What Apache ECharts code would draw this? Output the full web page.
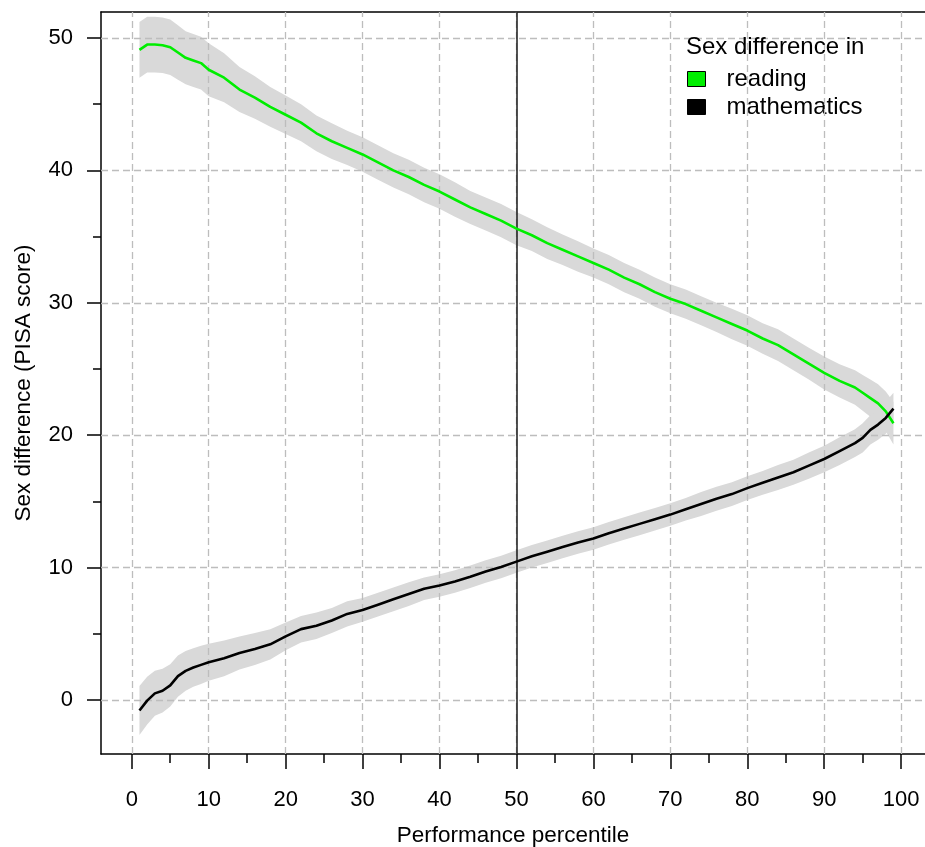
<!DOCTYPE html>
<html>
<head>
<meta charset="utf-8">
<title>Sex difference by performance percentile</title>
<script src="https://cdn.jsdelivr.net/npm/echarts@6/dist/echarts.min.js"></script>
<style>
  html, body { margin: 0; padding: 0; background: #fff; }
  #container { width: 925px; height: 847px; }
</style>
</head>
<body>
<div id="container"></div>
<script>
// performance percentiles where the curves were read
var pct = [1, 2, 3, 4, 5, 6, 7, 8, 9, 10,
  12, 14, 16, 18, 20, 22, 24, 26, 28, 30, 32, 34, 36, 38, 40, 42, 44, 46, 48, 50,
  52, 54, 56, 58, 60, 62, 64, 66, 68, 70, 72, 74, 76, 78, 80, 82, 84, 86, 88, 90, 92, 94,
  95, 96, 97, 98, 99];

// sex difference in reading (PISA score)
var reading = [49.1, 49.5, 49.5, 49.45, 49.3, 48.9, 48.5, 48.3, 48.1, 47.6,
  47.0, 46.1, 45.5, 44.8, 44.2, 43.6, 42.8, 42.2, 41.7, 41.2, 40.6, 40.0, 39.5, 38.9, 38.4, 37.8, 37.2, 36.7, 36.2, 35.6,
  35.1, 34.5, 34.0, 33.5, 33.0, 32.5, 31.9, 31.4, 30.8, 30.3, 29.9, 29.4, 28.9, 28.4, 27.9, 27.3, 26.8, 26.1, 25.4, 24.7, 24.1, 23.6,
  23.2, 22.8, 22.4, 21.8, 20.9];
// half width of the grey band around reading
var readingCI = [2.1, 2.1, 2.1, 2.1, 2.1, 2.05, 2.0, 2.0, 2.0, 2.0,
  1.85, 1.7, 1.6, 1.5, 1.45, 1.4, 1.35, 1.35, 1.3, 1.3, 1.3, 1.3, 1.3, 1.3, 1.3, 1.3, 1.25, 1.25, 1.25, 1.25,
  1.2, 1.2, 1.15, 1.15, 1.1, 1.1, 1.1, 1.1, 1.1, 1.1, 1.1, 1.1, 1.1, 1.15, 1.15, 1.15, 1.2, 1.2, 1.2, 1.25, 1.25, 1.3,
  1.35, 1.4, 1.45, 1.5, 1.6];

// sex difference in mathematics (PISA score)
var maths = [-0.8, -0.05, 0.5, 0.7, 1.1, 1.8, 2.2, 2.45, 2.65, 2.85,
  3.15, 3.55, 3.85, 4.2, 4.8, 5.35, 5.6, 6.0, 6.5, 6.8, 7.2, 7.6, 8.0, 8.4, 8.65, 8.95, 9.3, 9.7, 10.05, 10.45,
  10.85, 11.2, 11.55, 11.9, 12.2, 12.6, 12.95, 13.3, 13.65, 14.0, 14.4, 14.8, 15.2, 15.55, 16.0, 16.4, 16.8, 17.2, 17.7, 18.2, 18.8, 19.4,
  19.8, 20.4, 20.8, 21.3, 22.0];
var mathsCI = [1.85, 1.8, 1.7, 1.65, 1.6, 1.55, 1.5, 1.45, 1.45, 1.4,
  1.35, 1.25, 1.2, 1.15, 1.05, 1.0, 1.0, 0.95, 0.95, 0.9, 0.9, 0.9, 0.9, 0.85, 0.85, 0.85, 0.85, 0.85, 0.85, 0.85,
  0.85, 0.85, 0.85, 0.85, 0.85, 0.85, 0.85, 0.85, 0.85, 0.85, 0.85, 0.9, 0.9, 0.9, 0.9, 0.9, 0.95, 0.95, 1.0, 1.0, 1.05, 1.05,
  1.1, 1.1, 1.15, 1.2, 1.2];

var xMajor = [0, 10, 20, 30, 40, 50, 60, 70, 80, 90, 100];
var xMinor = [5, 15, 25, 35, 45, 55, 65, 75, 85, 95];
var yMajor = [0, 10, 20, 30, 40, 50];
var yMinor = [5, 15, 25, 35, 45];

var FONT = '"Liberation Sans", Arial, Helvetica, sans-serif';
var BAND = '#d9d9d9';

function pairs(vals) {
  return pct.map(function (p, i) { return [p, vals[i]]; });
}

// grey band drawn as one polygon through the axis scales
function bandSeries(name, vals, ci) {
  var data = pct.map(function (p, i) { return [p, vals[i] - ci[i], vals[i] + ci[i]]; });
  return {
    name: name + '-band', type: 'custom', data: data, z: 1, silent: true,
    encode: { x: 0, y: [1, 2] },
    renderItem: function (params, api) {
      if (params.dataIndex !== 0) return null;
      var top = data.map(function (d) { return api.coord([d[0], d[2]]); });
      var bot = data.map(function (d) { return api.coord([d[0], d[1]]); }).reverse();
      return {
        type: 'polygon',
        shape: { points: top.concat(bot) },
        style: { fill: BAND }
      };
    }
  };
}

var gridLines = xMajor.map(function (v) { return { xAxis: v }; })
  .concat(yMajor.map(function (v) { return { yAxis: v }; }));

var container = document.getElementById('container');
var chart = echarts.init(container, null, { renderer: 'canvas' });

var axisLineStyle = { color: '#000', width: 1.5 };

var option = {
  animation: false,
  backgroundColor: '#fff',
  textStyle: { fontFamily: FONT },
  title: {
    text: 'Sex difference in',
    left: 681, top: 30,
    textStyle: { fontFamily: FONT, fontSize: 24, fontWeight: 'normal', color: '#000' }
  },
  legend: {
    orient: 'vertical',
    left: 682, top: 62,
    itemWidth: 18, itemHeight: 15, itemGap: 4,
    selectedMode: false,
    textStyle: { fontFamily: FONT, fontSize: 24, lineHeight: 20, color: '#000', padding: [0, 0, 0, 16] },
    data: [
      { name: 'reading', icon: 'rect', itemStyle: { color: '#00ee00', borderColor: '#000', borderWidth: 1 } },
      { name: 'mathematics', icon: 'rect', itemStyle: { color: '#000', borderColor: '#000', borderWidth: 1 } }
    ]
  },
  grid: { left: 101, right: 0, top: 12, bottom: 93, containLabel: false, outerBoundsMode: 'none' },
  xAxis: [{
    type: 'value', min: -4, max: 103.1, position: 'bottom',
    name: 'Performance percentile', nameLocation: 'middle', nameGap: 70,
    nameTextStyle: { fontFamily: FONT, fontSize: 22.5, color: '#000' },
    axisLine: { show: true, onZero: false, lineStyle: axisLineStyle },
    axisTick: { show: true, length: 15, customValues: xMajor, lineStyle: axisLineStyle },
    axisLabel: { show: true, margin: 35, customValues: xMajor, fontFamily: FONT, fontSize: 22, color: '#000' },
    splitLine: { show: false }
  }, {
    type: 'value', min: -4, max: 103.1, position: 'bottom',
    axisLine: { show: false, onZero: false },
    axisTick: { show: true, length: 9, customValues: xMinor, lineStyle: axisLineStyle },
    axisLabel: { show: false },
    splitLine: { show: false }
  }, {
    type: 'value', min: -4, max: 103.1, position: 'top',
    axisLine: { show: true, onZero: false, lineStyle: axisLineStyle },
    axisTick: { show: false }, axisLabel: { show: false }, splitLine: { show: false }
  }],
  yAxis: [{
    type: 'value', min: -4.08, max: 51.96, position: 'left',
    name: 'Sex difference (PISA score)', nameLocation: 'middle', nameGap: 66, nameRotate: 90,
    nameTextStyle: { fontFamily: FONT, fontSize: 22.5, color: '#000' },
    axisLine: { show: true, onZero: false, lineStyle: axisLineStyle },
    axisTick: { show: true, length: 14, customValues: yMajor, lineStyle: axisLineStyle },
    axisLabel: { show: true, margin: 28, customValues: yMajor, fontFamily: FONT, fontSize: 22, color: '#000' },
    splitLine: { show: false }
  }, {
    type: 'value', min: -4.08, max: 51.96, position: 'left',
    axisLine: { show: false, onZero: false },
    axisTick: { show: true, length: 8, customValues: yMinor, lineStyle: axisLineStyle },
    axisLabel: { show: false },
    splitLine: { show: false }
  }],
  series: [
    bandSeries('reading', reading, readingCI),
    bandSeries('maths', maths, mathsCI),
    {
      name: 'gridlines', type: 'line', data: [], silent: true, z: 3,
      markLine: {
        silent: true, symbol: 'none', animation: false,
        label: { show: false },
        lineStyle: { color: '#bdbdbd', width: 1.3, type: [7, 4] },
        emphasis: { disabled: true },
        data: gridLines.concat([{ xAxis: 50, lineStyle: { color: '#1a1a1a', width: 1.5, type: 'solid' } }])
      }
    }, {
      name: 'reading', type: 'line', data: pairs(reading), z: 5,
      symbol: 'none', silent: true,
      lineStyle: { color: '#00ee00', width: 2.6 },
      itemStyle: { color: '#00ee00' }
    }, {
      name: 'mathematics', type: 'line', data: pairs(maths), z: 5,
      symbol: 'none', silent: true,
      lineStyle: { color: '#000', width: 2.6 },
      itemStyle: { color: '#000' }
    }
  ]
};

chart.setOption(option);
</script>
</body>
</html>
